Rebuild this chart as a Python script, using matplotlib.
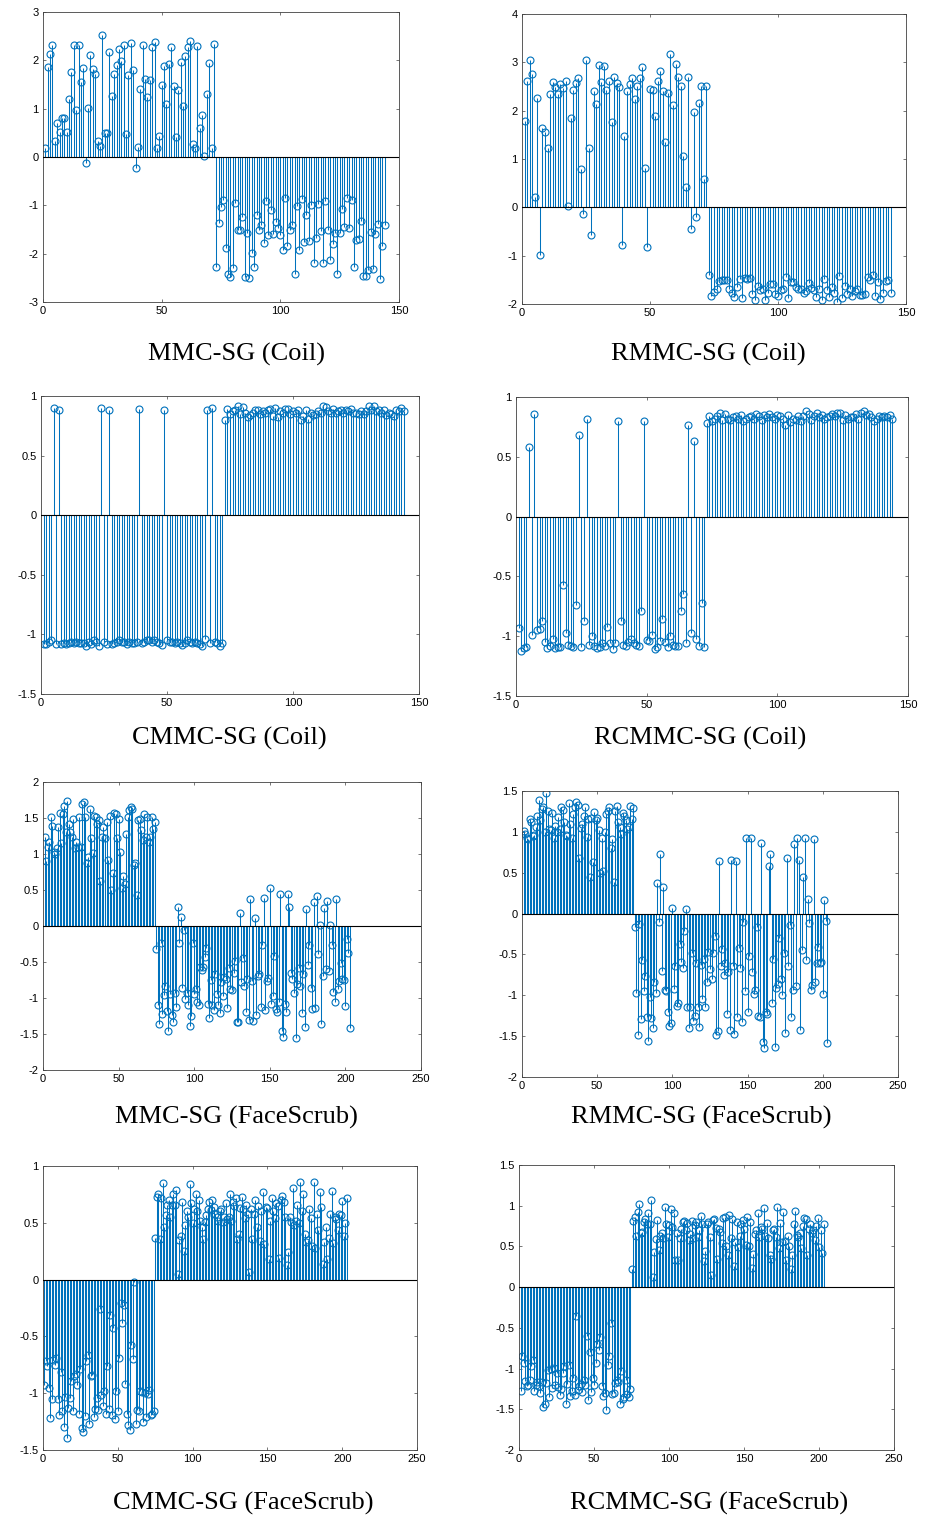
import numpy as np
from matplotlib import pyplot as plt

plt.rcParams['axes.unicode_minus'] = False

# ---- data (index = sample number) ----
mmc_coil = [
    0.19, 1.87, 2.13, 2.31, 0.34, 0.70, 0.51, 0.80, 0.80, 0.51, 1.20, 1.76,
    2.31, 0.98, 2.32, 1.56, 1.85, -0.13, 1.02, 2.11, 1.83, 1.72, 0.33, 0.22,
    2.52, 0.49, 0.49, 2.17, 1.26, 1.72, 1.91, 2.23, 1.99, 2.31, 0.48, 1.70,
    2.35, 1.81, -0.22, 0.20, 1.40, 2.32, 1.61, 1.24, 1.59, 2.28, 2.37, 0.19,
    0.44, 1.48, 1.88, 1.10, 1.93, 2.27, 1.47, 0.41, 1.39, 1.96, 1.06, 2.08,
    2.27, 2.41, 0.26, 0.19, 2.29, 0.61, 0.86, 0.02, 1.30, 1.95, 0.19, 2.34,
    -2.28, -1.36, -1.04, -0.89, -1.88, -2.42, -2.49, -2.30, -0.95, -1.51, -1.51, -1.24,
    -2.49, -1.58, -2.50, -1.99, -2.27, -1.21, -1.52, -1.41, -1.78, -0.91, -1.62, -1.10,
    -1.60, -1.34, -1.46, -1.62, -1.92, -0.84, -1.84, -1.51, -1.40, -2.42, -1.01, -1.92,
    -0.86, -1.75, -1.19, -1.73, -0.99, -2.20, -1.67, -0.98, -1.54, -2.20, -0.90, -1.50,
    -2.14, -1.81, -1.58, -2.43, -1.58, -1.07, -1.44, -0.85, -1.46, -0.88, -2.27, -1.72,
    -1.70, -1.32, -2.47, -2.46, -2.33, -1.56, -2.32, -1.59, -1.38, -2.52, -1.84, -1.40,
]

rmmc_coil = [
    1.78, 2.62, 3.04, 2.75, 0.21, 2.27, -0.99, 1.64, 1.55, 1.22, 2.34, 2.59,
    2.49, 2.34, 2.55, 2.46, 2.62, 0.02, 1.84, 2.43, 2.58, 2.68, 0.79, -0.13,
    3.05, 1.23, -0.58, 2.40, 2.13, 2.94, 2.59, 2.93, 2.42, 2.62, 1.77, 2.70,
    2.57, 2.49, -0.78, 1.47, 2.41, 2.56, 2.67, 2.24, 2.50, 2.67, 2.91, 0.82,
    -0.82, 2.44, 2.42, 1.89, 2.61, 2.83, 2.41, 1.36, 2.37, 3.17, 2.11, 2.97,
    2.69, 2.50, 1.07, 0.43, 2.69, -0.44, 1.98, -0.20, 2.15, 2.50, 0.58, 2.52,
    -1.40, -1.83, -1.75, -1.70, -1.53, -1.50, -1.50, -1.50, -1.68, -1.78, -1.86, -1.64,
    -1.48, -1.88, -1.47, -1.48, -1.47, -1.79, -1.91, -1.62, -1.72, -1.68, -1.91, -1.78,
    -1.58, -1.58, -1.79, -1.83, -1.72, -1.68, -1.44, -1.87, -1.54, -1.55, -1.65, -1.70,
    -1.68, -1.78, -1.73, -1.57, -1.66, -1.71, -1.86, -1.70, -1.91, -1.49, -1.71, -1.86,
    -1.64, -1.78, -1.95, -1.43, -1.88, -1.62, -1.80, -1.68, -1.84, -1.74, -1.69, -1.81,
    -1.81, -1.80, -1.45, -1.50, -1.40, -1.84, -1.55, -1.90, -1.78, -1.52, -1.50, -1.78,
]

cmmc_coil = [
    -1.08, -1.08, -1.06, -1.05, 0.90, -1.08, 0.88, -1.08, -1.07, -1.08, -1.07, -1.06,
    -1.07, -1.06, -1.07, -1.07, -1.07, -1.10, -1.06, -1.08, -1.05, -1.06, -1.10, 0.90,
    -1.06, -1.08, 0.88, -1.08, -1.07, -1.06, -1.05, -1.06, -1.06, -1.08, -1.06, -1.07,
    -1.07, -1.06, 0.89, -1.07, -1.06, -1.05, -1.05, -1.06, -1.05, -1.06, -1.07, -1.09,
    0.88, -1.05, -1.06, -1.06, -1.07, -1.06, -1.07, -1.09, -1.07, -1.05, -1.06, -1.07,
    -1.06, -1.07, -1.08, -1.10, -1.04, 0.88, -1.07, 0.90, -1.06, -1.07, -1.10, -1.07,
    0.80, 0.89, 0.85, 0.87, 0.88, 0.92, 0.85, 0.91, 0.86, 0.82, 0.84, 0.86,
    0.88, 0.88, 0.85, 0.87, 0.86, 0.88, 0.89, 0.83, 0.90, 0.82, 0.87, 0.86,
    0.89, 0.89, 0.85, 0.87, 0.86, 0.88, 0.80, 0.83, 0.88, 0.81, 0.86, 0.84,
    0.85, 0.87, 0.86, 0.92, 0.91, 0.87, 0.86, 0.89, 0.86, 0.87, 0.88, 0.86,
    0.88, 0.87, 0.89, 0.86, 0.86, 0.85, 0.87, 0.85, 0.87, 0.92, 0.88, 0.92,
    0.87, 0.88, 0.86, 0.88, 0.84, 0.86, 0.85, 0.83, 0.88, 0.87, 0.90, 0.87,
]

rcmmc_coil = [
    -0.93, -1.12, -1.10, -1.09, 0.58, -0.99, 0.86, -0.95, -0.94, -0.87, -1.05, -1.10,
    -1.08, -1.02, -1.10, -1.09, -1.09, -0.57, -0.97, -1.07, -1.08, -1.09, -0.74, 0.68,
    -1.09, -0.87, 0.82, -1.07, -1.00, -1.08, -1.10, -1.09, -1.06, -1.08, -0.92, -1.06,
    -1.11, -1.06, 0.80, -0.87, -1.07, -1.08, -1.05, -1.02, -1.06, -1.07, -1.08, -0.79,
    0.80, -1.03, -1.04, -0.99, -1.11, -1.09, -1.04, -0.86, -1.05, -1.09, -1.00, -1.07,
    -1.08, -1.08, -0.79, -0.65, -1.06, 0.77, -0.97, 0.63, -1.02, -1.08, -0.72, -1.09,
    0.78, 0.84, 0.80, 0.82, 0.84, 0.87, 0.81, 0.86, 0.82, 0.81, 0.83, 0.84,
    0.82, 0.85, 0.80, 0.82, 0.83, 0.84, 0.82, 0.86, 0.84, 0.81, 0.85, 0.83,
    0.86, 0.83, 0.82, 0.85, 0.84, 0.82, 0.77, 0.85, 0.79, 0.82, 0.81, 0.84,
    0.80, 0.84, 0.88, 0.86, 0.81, 0.84, 0.87, 0.83, 0.85, 0.82, 0.83, 0.84,
    0.86, 0.84, 0.87, 0.87, 0.81, 0.85, 0.82, 0.83, 0.83, 0.86, 0.82, 0.87,
    0.88, 0.85, 0.86, 0.83, 0.80, 0.82, 0.84, 0.83, 0.84, 0.83, 0.85, 0.82,
]

mmc_face = [
    1.24, 0.90, 1.10, 1.17, 1.52, 1.39, 1.03, 1.00, 1.08, 1.38,
    1.57, 1.15, 1.55, 1.67, 1.30, 1.74, 1.41, 1.30, 1.23, 1.49,
    1.08, 1.16, 1.10, 1.52, 1.10, 1.69, 1.72, 1.52, 0.87, 0.96,
    1.62, 1.22, 1.02, 1.53, 1.52, 1.42, 1.47, 0.63, 1.24, 1.38,
    1.22, 1.44, 0.91, 1.53, 0.50, 0.74, 1.57, 1.56, 1.22, 1.49,
    1.03, 0.53, 0.70, 0.59, 1.28, 1.51, 1.61, 1.65, 1.63, 0.85,
    0.87, 0.43, 1.47, 1.48, 1.33, 1.20, 1.56, 1.23, 1.52, 1.16,
    1.23, 1.52, 1.35, 1.44,
    -0.32, -1.10, -1.36, -0.24, -1.22, -0.96, -0.84, -1.18, -1.46, -0.94,
    -1.23, -1.33, -0.93, -1.13, 0.27, -0.23, 0.13, -0.86, -0.05, -1.02,
    -0.93, -1.10, -1.39, -1.25, -0.24, -0.95, -0.88, -1.06, -1.10, -0.57,
    -0.61, -0.57, -0.43, -0.30, -1.09, -1.28, -0.75, -1.10, -1.17, -0.67,
    -0.95,
    -1.10, -1.21, -0.78, -0.97, -0.71, -0.73, -1.14, -0.59, -0.87, -0.89,
    -0.65, -0.49, -1.33, -1.34, 0.18, -0.78, -0.45, -0.84, -1.19, -0.74,
    -1.31, 0.37, -0.76, -1.32, 0.11, -1.24, -0.70, -0.67, -1.13, -0.27,
    0.39, -1.16, -0.76, -0.72, 0.53, -1.09, -0.97, -0.42, -1.15, -1.20,
    -1.05,
    0.45, -1.46, -1.54, -1.09, -1.20, 0.44, 0.26, -0.65, -0.74, -0.93,
    -1.55, -0.81, -0.59, -0.83, -1.21, -0.66, -1.40, 0.23, -0.54, -0.27,
    -0.86, -1.15, 0.33, -1.14, 0.41, -0.39, 0.01, -1.36, -0.70, 0.25,
    -0.60,
    0.35, -0.62, 0.01, -0.27, -0.92, -1.06, 0.38, -0.88, -0.77, -0.51,
    -0.74, -0.75, -1.11, -0.18, -0.37, -1.42,
]

rmmc_face = [
    1.01, 0.97, 0.92, 0.91, 1.16, 1.12, 0.95, 0.96, 1.06, 1.20,
    1.39, 1.14, 1.28, 1.31, 1.00, 1.47, 1.25, 1.04, 1.02, 1.23,
    0.93, 1.07, 1.00, 1.18, 1.03, 1.30, 1.27, 1.12, 0.96, 0.95,
    1.35, 1.10, 0.92, 1.22, 1.31, 1.37, 1.33, 0.68, 1.05, 1.10,
    1.19, 1.30, 0.94, 1.16, 0.45, 1.17, 0.63, 1.24, 1.15, 1.17,
    1.02, 0.50, 0.93, 0.52, 1.00, 1.22, 1.26, 1.31, 0.80, 0.91,
    0.39, 1.25, 1.32, 1.12, 1.06, 0.97, 1.23, 1.19, 1.14, 1.04,
    1.06, 1.32, 1.16, 1.29,
    -0.17, -0.97, -1.48, -0.13, -1.29, -0.57, -0.95, -0.76, -1.27, -1.56,
    -1.02, -1.28, -1.40, -0.84, -0.97, 0.38, -0.10, 0.73, -0.70, 0.32,
    -0.94, -0.95, -1.20, -1.38, -1.34, 0.07, -0.92, -0.64, -1.13, -1.10,
    -0.37, -0.59, -0.66, -0.21, 0.05, -1.14, -1.40, -1.14, -0.48, -1.32,
    -1.25, -0.60, -1.14, -1.39, -0.63, -1.05, -0.56, -1.14, -0.84, -0.47,
    -0.68, -0.80, -0.48, -0.27, -1.48, -1.44, 0.64, -0.64, -0.43, -0.75,
    -0.60,
    -1.23, -0.71, -1.42, 0.65, -0.64, -1.47, 0.64, -1.27, -0.42, -0.66,
    -1.33, -0.10, -0.95, 0.92, -1.20, -0.52, 0.92, -0.71, -0.99, -0.94,
    -0.16, -1.25, -1.27, 0.86, -1.57, -1.65, -1.20, -1.23, 0.58, 0.73,
    -1.10,
    -0.56, -1.63, -0.91, -0.86, -0.30, -0.80, -1.00, -0.48, -1.46, 0.68,
    -0.64, -0.14, -1.27, -0.93, 0.85, -0.89, 0.93, 0.66, -1.43, -0.44,
    0.45, 0.93, -0.57, 0.18, -0.11, -0.94, -0.88, 0.91, -0.84, -0.60,
    -0.41, -0.61, -0.59, -0.99, 0.17, -0.09, -1.58,
]

cmmc_face = [
    -0.93, -0.72, -0.76, -0.95, -1.22, -1.05, -0.71, -0.75, -0.69, -1.05,
    -1.19, -0.81, -1.16, -1.30, -1.03, -1.39, -1.13, -1.04, -0.89, -1.16,
    -0.85, -0.83, -0.93, -1.18, -0.79, -1.31, -1.34, -1.20, -0.72, -0.66,
    -1.27, -0.85, -0.84, -1.21, -1.14, -1.04, -1.15, -0.26, -1.02, -1.11,
    -0.98, -1.18, -0.76, -1.14, -0.31, -1.19, -0.43, -1.23, -0.98, -1.16,
    -0.69, -0.21, -0.38, -0.22, -0.92, -1.18, -1.28, -1.32, -0.58, -0.70,
    -0.02, -1.27, -1.15, -1.16, -0.98, -0.99, -1.25, -1.00, -1.21, -1.01,
    -0.97, -1.19, -1.18, -1.16,
    0.37, 0.73, 0.75, 0.36, 0.72, 0.85, 0.46, 0.57, 0.66, 0.70,
    0.55, 0.66, 0.75, 0.66, 0.79, 0.05, 0.35, 0.38, 0.68, 0.25,
    0.48, 0.60, 0.55, 0.84, 0.67, 0.50, 0.62, 0.75, 0.60, 0.70,
    0.52, 0.46, 0.36, 0.51, 0.57, 0.62, 0.68, 0.61, 0.70, 0.64,
    0.58, 0.55, 0.52, 0.60, 0.62, 0.51, 0.55, 0.67, 0.53, 0.55,
    0.75, 0.52, 0.68, 0.65, 0.72, 0.36, 0.40, 0.63, 0.73, 0.62,
    0.54, 0.66, 0.58, 0.07, 0.62, 0.36, 0.58, 0.70, 0.46, 0.65,
    0.34, 0.60, 0.77, 0.31, 0.64, 0.63, 0.18, 0.52, 0.72, 0.60,
    0.54, 0.67, 0.65, 0.19, 0.70, 0.74, 0.68, 0.55, 0.13, 0.24,
    0.55, 0.51, 0.81, 0.48, 0.52, 0.66, 0.50, 0.86, 0.60, 0.75,
    0.40, 0.33, 0.35, 0.62, 0.54, 0.30, 0.86, 0.28, 0.58, 0.44,
    0.77, 0.64, 0.14, 0.33, 0.46, 0.18, 0.37, 0.58, 0.78, 0.32,
    0.55, 0.53, 0.44, 0.58, 0.57, 0.69, 0.38, 0.50, 0.72,
]

rcmmc_face = [
    -1.27, -0.85, -0.93, -1.15, -1.22, -1.20, -1.14, -0.97, -0.89, -1.28,
    -1.20, -1.16, -1.22, -1.30, -1.17, -1.47, -1.44, -1.18, -1.02, -1.35,
    -1.01, -1.24, -0.99, -1.20, -1.05, -1.23, -1.33, -1.25, -1.05, -0.97,
    -1.43, -1.19, -0.96, -1.34, -1.27, -1.12, -1.32, -0.35, -1.26, -1.22,
    -1.19, -1.29, -1.14, -1.20, -0.60, -1.38, -0.80, -1.29, -1.11, -1.20,
    -0.93, -0.70, -0.77, -0.61, -1.21, -1.34, -1.30, -1.51, -0.95, -0.84,
    -0.44, -1.31, -1.30, -1.18, -1.14, -1.16, -1.44, -1.03, -1.37, -1.35,
    -1.14, -1.31, -1.35, -1.25,
    0.22, 0.81, 0.86, 0.63, 0.92, 1.02, 0.67, 0.68, 0.80, 0.84,
    0.78, 0.91, 0.77, 1.07, 0.12, 0.43, 0.59, 0.82, 0.46, 0.63,
    0.67, 0.60, 0.99, 0.78, 0.61, 0.76, 0.96, 0.74, 0.91, 0.33,
    0.66, 0.33, 0.60, 0.72, 0.80, 0.81, 0.70, 0.79, 0.58, 0.65,
    0.81, 0.60, 0.76, 0.80, 0.62, 0.70, 0.87, 0.78, 0.32, 0.44,
    0.78, 0.80, 0.61, 0.15, 0.82, 0.84, 0.73, 0.35, 0.72, 0.68,
    0.54, 0.85, 0.86, 0.51, 0.40, 0.88, 0.60, 0.84, 0.26, 0.55,
    0.80, 0.49, 0.63, 0.78, 0.83, 0.72, 0.52, 0.86, 0.50, 0.80,
    0.24, 0.41, 0.65, 0.70, 0.91, 0.61, 0.74, 0.72, 0.97, 0.63,
    0.79, 0.60, 0.39, 0.35, 0.70, 0.72, 0.61, 0.99, 0.48, 0.79,
    0.55, 0.92, 0.57, 0.33, 0.63, 0.50, 0.22, 0.40, 0.78, 0.93,
    0.64, 0.62, 0.67, 0.48, 0.75, 0.85, 0.84, 0.40, 0.72, 0.78,
    0.66, 0.70, 0.58, 0.75, 0.85, 0.49, 0.70, 0.42, 0.78,
]

titles = ['MMC-SG (Coil)', 'RMMC-SG (Coil)', 'CMMC-SG (Coil)', 'RCMMC-SG (Coil)',
          'MMC-SG (FaceScrub)', 'RMMC-SG (FaceScrub)', 'CMMC-SG (FaceScrub)', 'RCMMC-SG (FaceScrub)']
series = [mmc_coil, rmmc_coil, cmmc_coil, rcmmc_coil, mmc_face, rmmc_face, cmmc_face, rcmmc_face]
ylims = [(-3, 3), (-2, 4), (-1.5, 1), (-1.5, 1), (-2, 2), (-2, 1.5), (-1.5, 1), (-2, 1.5)]
ysteps = [1, 1, 0.5, 0.5, 0.5, 0.5, 0.5, 0.5]
xmaxs = [150, 150, 150, 150, 250, 250, 250, 250]

# axes boxes in pixels: left, right, top, bottom
boxes = [(43, 399, 12, 302), (522, 906, 14, 304),
         (41, 419, 396, 694), (516, 908, 397, 696),
         (43, 421, 782, 1070), (522, 898, 791, 1077),
         (43, 417, 1166, 1450), (519, 894, 1165, 1450)]
# title centres in pixels
title_pos = [(236, 354), (708, 354), (229, 738), (700, 738),
             (236, 1117), (701, 1117), (243, 1503), (709, 1503)]

W, H = 925, 1518
blue = '#0072BD'

fig = plt.figure(figsize=(W / 100, H / 100), dpi=100)

for k in range(8):
    l, r, t, b = boxes[k]
    ax = fig.add_axes([l / W, 1 - b / H, (r - l) / W, (b - t) / H])
    y = np.array(series[k])
    x = np.arange(1, len(y) + 1)

    markerline, stemlines, baseline = ax.stem(x, y, basefmt=' ')
    stemlines.set_color(blue)
    stemlines.set_linewidth(0.75)
    markerline.set_markerfacecolor('none')
    markerline.set_markeredgecolor(blue)
    markerline.set_markersize(5)
    markerline.set_markeredgewidth(0.8)
    ax.axhline(0, color='k', lw=0.8, zorder=3)

    lo, hi = ylims[k]
    ax.set_ylim(lo, hi)
    ax.set_xlim(0, xmaxs[k])
    yt = np.arange(lo, hi + 1e-9, ysteps[k])
    ax.set_yticks(yt)
    ax.set_yticklabels(['%g' % v for v in yt])
    xt = np.arange(0, xmaxs[k] + 1, 50)
    ax.set_xticks(xt)
    ax.set_xticklabels([str(v) for v in xt])

    ax.tick_params(direction='in', length=2.5, width=0.5, top=True, right=True,
                   labelsize=8, pad=3, colors='#404040', labelcolor='black')
    for lab in ax.get_xticklabels() + ax.get_yticklabels():
        lab.set_family('Liberation Sans')
    for sp in ax.spines.values():
        sp.set_linewidth(0.6)
        sp.set_color('#404040')

    cx, cy = title_pos[k]
    fig.text(cx / W, 1 - cy / H, titles[k], ha='center', va='center',
             fontsize=19, family='Liberation Serif')

plt.savefig('out.png', dpi=100)
